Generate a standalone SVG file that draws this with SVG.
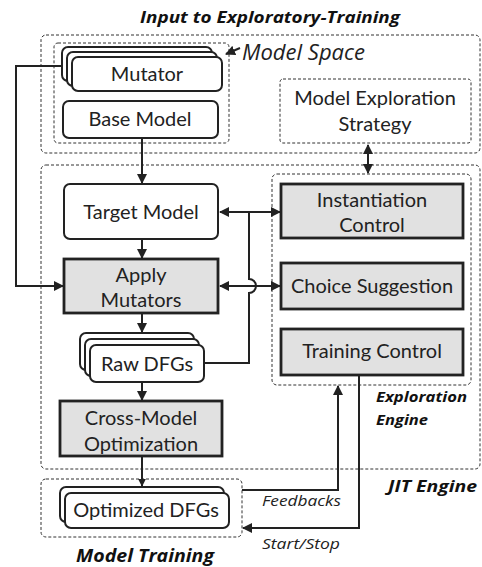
<svg xmlns="http://www.w3.org/2000/svg" width="482" height="567" viewBox="0 0 482 567">
<defs>
<style>
.grp{fill:none;stroke:#333;stroke-width:1;stroke-dasharray:3,2}
.wn{fill:#fff;stroke:#222;stroke-width:2}
.gn{fill:#e1e1e1;stroke:#222;stroke-width:2.8}
.t{font-family:Lato,"Liberation Sans",sans-serif;font-size:20px;fill:#222;text-anchor:middle}
.bi{font-family:"Open Sans","Liberation Sans",sans-serif;font-weight:bold;font-style:italic;fill:#111}
.it{font-family:"Open Sans","Liberation Sans",sans-serif;font-style:italic;fill:#222}
.c{fill:none;stroke:#222;stroke-width:2}
</style>
<marker id="ah" viewBox="0 0 10 10" refX="9" refY="5" markerWidth="5" markerHeight="5" orient="auto-start-reverse" markerUnits="strokeWidth">
<path d="M0,0 L10,5 L0,10 z" fill="#222"/>
</marker>
<marker id="ahs" viewBox="0 0 10 10" refX="9" refY="5" markerWidth="4" markerHeight="4" orient="auto-start-reverse" markerUnits="strokeWidth">
<path d="M0,0 L10,5 L0,10 z" fill="#222"/>
</marker>
</defs>
<rect width="482" height="567" fill="#fff"/>

<g id="groups">
<rect class="grp" x="41" y="35" width="439" height="118" rx="5"/>
<rect class="grp" x="54" y="43" width="175" height="100" rx="4"/>
<rect class="grp" x="41" y="165" width="439" height="304" rx="5"/>
<rect class="grp" x="272" y="174" width="199" height="211" rx="5"/>
<rect class="grp" x="41" y="479" width="201" height="58" rx="5"/>
<text class="bi" x="140" y="23" font-size="16" textLength="260" lengthAdjust="spacingAndGlyphs">Input to Exploratory-Training</text>
<text class="it" x="242" y="60" font-size="21" textLength="123" lengthAdjust="spacingAndGlyphs">Model Space</text>
<text class="bi" x="376" y="402" font-size="15" textLength="91" lengthAdjust="spacingAndGlyphs">Exploration</text>
<text class="bi" x="376" y="425" font-size="15" textLength="52" lengthAdjust="spacingAndGlyphs">Engine</text>
<text class="bi" x="388" y="492" font-size="16" textLength="89" lengthAdjust="spacingAndGlyphs">JIT Engine</text>
<text class="bi" x="76" y="562" font-size="17" textLength="138" lengthAdjust="spacingAndGlyphs">Model Training</text>
</g>

<g id="connectors">
<path class="c" d="M240,48 L226,54" stroke-width="1.2" marker-end="url(#ah)"/>
<path class="c" d="M62,66 H16 V286 H63" marker-end="url(#ah)"/>
<path class="c" d="M142,138 V183" marker-end="url(#ah)"/>
<path class="c" d="M368,145 V173" marker-start="url(#ah)" marker-end="url(#ah)"/>
<path class="c" d="M220,212 H280" marker-start="url(#ah)" marker-end="url(#ah)"/>
<path class="c" d="M220,286 H280" marker-start="url(#ah)" marker-end="url(#ah)"/>
<path class="c" d="M204,363 H249 V293 A7,7 0 0 0 249,279 V212"/>
<path class="c" d="M142,239 V258" marker-end="url(#ah)"/>
<path class="c" d="M142,313 V332" marker-end="url(#ah)"/>
<path class="c" d="M142,382 V400" marker-end="url(#ah)"/>
<path class="c" d="M142,456 V486" stroke-width="3" marker-end="url(#ahs)"/>
<path class="c" d="M242,490 H338 V386" marker-end="url(#ah)"/>
<path class="c" d="M359,375 V528 H243" marker-end="url(#ah)"/>
<text class="it" x="262" y="506" font-size="15" textLength="79" lengthAdjust="spacingAndGlyphs">Feedbacks</text>
<text class="it" x="262" y="549" font-size="15" textLength="78" lengthAdjust="spacingAndGlyphs">Start/Stop</text>
</g>

<g id="mutator">
<rect class="wn" x="62" y="47" width="150" height="34" rx="6"/>
<rect class="wn" x="67" y="52" width="150" height="34" rx="6"/>
<rect class="wn" x="72" y="57" width="150" height="34" rx="6"/>
<text class="t" x="147" y="81">Mutator</text>
</g>
<g id="base-model">
<rect class="wn" x="63" y="101" width="155" height="37" rx="6"/>
<text class="t" x="140" y="126">Base Model</text>
</g>
<g id="model-exploration-strategy">
<rect class="grp" x="280" y="79" width="191" height="64" rx="3"/>
<text class="t" x="375" y="105">Model Exploration</text>
<text class="t" x="375" y="131">Strategy</text>
</g>
<g id="target-model">
<rect class="wn" x="64" y="184" width="154" height="55" rx="6"/>
<text class="t" x="141" y="219">Target Model</text>
</g>
<g id="apply-mutators">
<rect class="gn" x="64" y="259" width="154" height="54"/>
<text class="t" x="141" y="282">Apply</text>
<text class="t" x="141" y="307">Mutators</text>
</g>
<g id="raw-dfgs">
<rect class="wn" x="80" y="333" width="114" height="37" rx="6" stroke-width="1.6"/>
<rect class="wn" x="85" y="339" width="114" height="37" rx="6" stroke-width="1.6"/>
<rect class="wn" x="90" y="345" width="114" height="37" rx="6" stroke-width="1.6"/>
<text class="t" x="147" y="371">Raw DFGs</text>
</g>
<g id="cross-model-optimization">
<rect class="gn" x="60" y="401" width="162" height="55"/>
<text class="t" x="141" y="425">Cross-Model</text>
<text class="t" x="141" y="451">Optimization</text>
</g>
<g id="optimized-dfgs">
<rect class="wn" x="60" y="487" width="164" height="35" rx="6" stroke-width="1.6"/>
<rect class="wn" x="65" y="493" width="164" height="35" rx="6" stroke-width="1.6"/>
<text class="t" x="146" y="517">Optimized DFGs</text>
</g>
<g id="instantiation-control">
<rect class="gn" x="281" y="184" width="182" height="54"/>
<text class="t" x="372" y="207">Instantiation</text>
<text class="t" x="372" y="232">Control</text>
</g>
<g id="choice-suggestion">
<rect class="gn" x="281" y="263" width="182" height="46"/>
<text class="t" x="372" y="293">Choice Suggestion</text>
</g>
<g id="training-control">
<rect class="gn" x="281" y="329" width="182" height="46"/>
<text class="t" x="372" y="358">Training Control</text>
</g>
</svg>
